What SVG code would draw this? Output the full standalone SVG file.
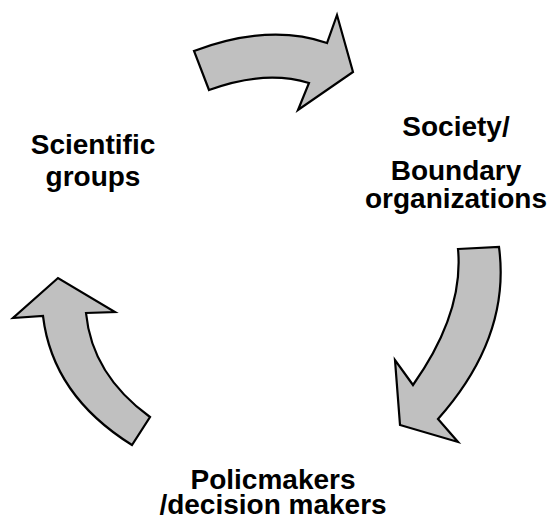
<svg xmlns="http://www.w3.org/2000/svg" width="550" height="521" viewBox="0 0 550 521">
<style>
.arrow{fill:#c0c0c0;stroke:#000;stroke-width:2.2;stroke-linejoin:miter}
.lbl{font-family:"Liberation Sans",Arial,sans-serif;font-weight:bold;font-size:28px;fill:#000;text-anchor:middle}
</style>
<rect width="550" height="521" fill="#fff"/>
<g id="connectors">
<path class="arrow" d="M194,51 Q269,23 327,43 L337,15 L353,72 L298,110 L309,83 Q265,69.5 209,90 Z"/>
<path class="arrow" d="M458,249 L499,247 Q511,337 438,419 L458,442 L400,425 L395,360 L413,385 Q464,313 458,249 Z"/>
<path class="arrow" d="M132,445 Q52.5,395.5 43,316 L13,318 L58,278 L115,312 L86,313 Q92,375 150,417 Z"/>
</g>
<g id="scientific">
<text class="lbl" x="93" y="154">Scientific</text>
<text class="lbl" x="93" y="186">groups</text>
</g>
<g id="society">
<text class="lbl" x="456" y="136">Society/</text>
<text class="lbl" x="456" y="180">Boundary</text>
<text class="lbl" x="456" y="208">organizations</text>
</g>
<g id="policymakers">
<text class="lbl" x="273" y="489">Policmakers</text>
<text class="lbl" x="273" y="514">/decision makers</text>
</g>
</svg>
